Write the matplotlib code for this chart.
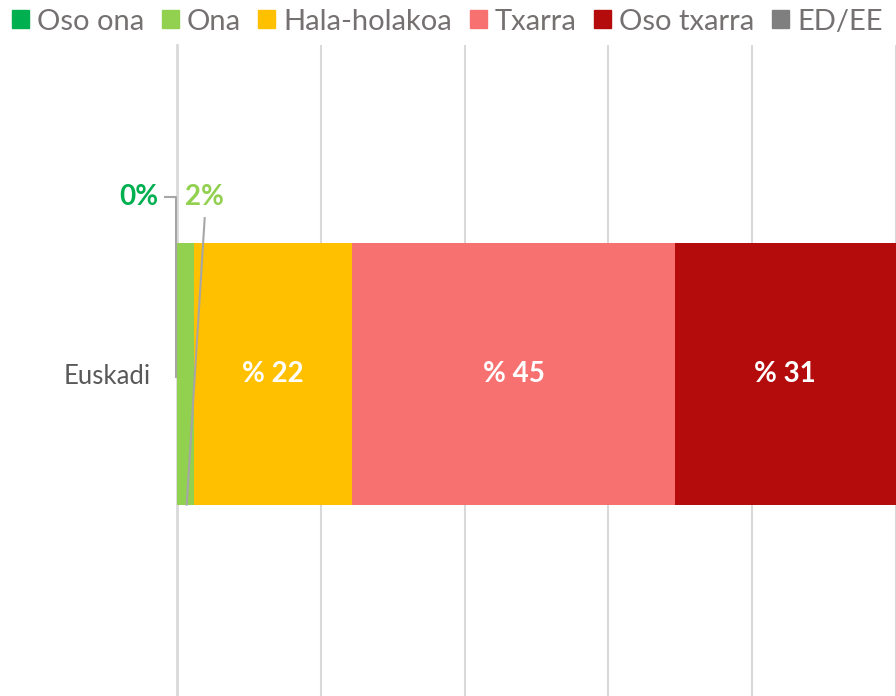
import matplotlib
matplotlib.use("Agg")
import matplotlib.pyplot as plt
from matplotlib.patches import Patch

plt.rcParams['font.family'] = ['Lato', 'DejaVu Sans']

categories = ["Euskadi"]
series = ["Oso ona", "Ona", "Hala-holakoa", "Txarra", "Oso txarra", "ED/EE"]
values = [0.0, 2.3, 22.1, 44.8, 30.8, 0.0]
labels = ["0%", "2%", "% 22", "% 45", "% 31", ""]
colors = ["#00B050", "#92D050", "#FFC000", "#F77171", "#B40C0C", "#7F7F7F"]

fig = plt.figure(figsize=(8.96, 6.96), dpi=100)
ax = fig.add_axes([177/896, 0, 1 - 177/896, 651/696])

left = 0.0
centers = []
for v, c, s in zip(values, colors, series):
    ax.barh(0, v, left=left, height=1.006, color=c, label=s, zorder=2)
    centers.append(left + v / 2)
    left += v

# inside labels
for i in (2, 3, 4):
    ax.text(centers[i], 0, labels[i], color="white", fontsize=20, fontweight="bold",
            ha="center", va="center", zorder=4)

# outside labels with leader lines
ax.text(centers[0] - 5.3, 0.68, labels[0], color=colors[0], fontsize=20, fontweight="bold",
        ha="center", va="center", zorder=4)
ax.plot([centers[0] - 1.7, centers[0] - 0.15, centers[0] - 0.15],
        [0.68, 0.68, -0.01], color="#A6A6A6", lw=1.5, zorder=3, clip_on=False)
ax.text(centers[1] + 2.6, 0.68, labels[1], color=colors[1], fontsize=20, fontweight="bold",
        ha="center", va="center", zorder=4)
ax.plot([centers[1] + 2.7, centers[1] + 0.2], [0.6, -0.5], color="#A6A6A6", lw=1.5,
        zorder=3, clip_on=False)

ax.set_xlim(0, 97.9)
ax.set_ylim(-1.235, 1.265)
ax.set_xticks([0, 20, 40, 60, 80, 100])
ax.set_xticklabels([])
ax.tick_params(axis="x", length=0)
ax.set_yticks([0])
ax.set_yticklabels(categories, fontsize=18.5, color="#595959")
ax.tick_params(axis="y", length=0, pad=19)
ax.grid(axis="x", color="#D9D9D9", lw=1.5, zorder=0)
for sp in ["top", "right", "bottom"]:
    ax.spines[sp].set_visible(False)
ax.spines["left"].set_color("#D9D9D9")
ax.spines["left"].set_linewidth(2)
ax.spines["left"].set_zorder(1)

handles = [Patch(color=c, label=s) for c, s in zip(colors, series)]
leg = fig.legend(handles=handles, loc="upper left", bbox_to_anchor=(6/896, 0.996), ncol=6,
                 frameon=False, fontsize=21, handlelength=0.58, handleheight=0.58,
                 handletextpad=0.28, columnspacing=0.6, borderaxespad=0, borderpad=0.2)
for t in leg.get_texts():
    t.set_color("#757171")

fig.savefig("out.png", dpi=100)
